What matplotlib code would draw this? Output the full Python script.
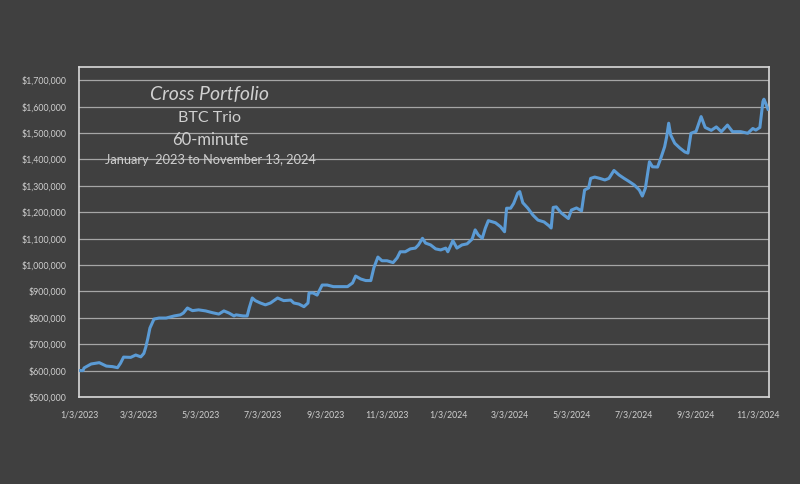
import matplotlib
matplotlib.use("Agg")
import matplotlib.pyplot as plt
import pandas as pd

# Portfolio equity curve
dates = [
    "2023-01-03", "2023-01-07", "2023-01-08", "2023-01-15", "2023-01-23", "2023-01-30",
    "2023-02-05", "2023-02-10", "2023-02-13", "2023-02-16", "2023-02-23", "2023-02-28",
    "2023-03-05", "2023-03-08", "2023-03-10", "2023-03-12", "2023-03-14", "2023-03-18",
    "2023-03-23", "2023-03-30", "2023-04-07", "2023-04-13", "2023-04-16", "2023-04-20",
    "2023-04-25", "2023-05-01", "2023-05-08", "2023-05-15", "2023-05-21", "2023-05-26",
    "2023-05-31", "2023-06-05", "2023-06-07", "2023-06-14", "2023-06-18", "2023-06-20",
    "2023-06-23", "2023-06-26", "2023-07-01", "2023-07-06", "2023-07-11", "2023-07-18",
    "2023-07-24", "2023-07-31", "2023-08-03", "2023-08-08", "2023-08-13", "2023-08-17",
    "2023-08-18", "2023-08-22", "2023-08-26", "2023-08-31", "2023-09-05", "2023-09-11",
    "2023-09-18", "2023-09-25", "2023-09-30", "2023-10-03", "2023-10-08", "2023-10-13",
    "2023-10-18", "2023-10-21", "2023-10-25", "2023-10-29", "2023-11-03", "2023-11-09",
    "2023-11-13", "2023-11-16", "2023-11-21", "2023-11-26", "2023-12-01", "2023-12-04",
    "2023-12-08", "2023-12-11", "2023-12-16", "2023-12-21", "2023-12-26", "2023-12-31",
    "2024-01-02", "2024-01-07", "2024-01-11", "2024-01-16", "2024-01-21", "2024-01-26",
    "2024-01-29", "2024-02-01", "2024-02-05", "2024-02-08", "2024-02-11", "2024-02-18",
    "2024-02-23", "2024-02-27", "2024-02-29", "2024-03-04", "2024-03-07", "2024-03-11",
    "2024-03-13", "2024-03-16", "2024-03-21", "2024-03-26", "2024-03-31", "2024-04-06",
    "2024-04-11", "2024-04-13", "2024-04-15", "2024-04-18", "2024-04-23", "2024-04-30",
    "2024-05-03", "2024-05-08", "2024-05-13", "2024-05-16", "2024-05-20", "2024-05-22",
    "2024-05-26", "2024-05-31", "2024-06-05", "2024-06-09", "2024-06-14", "2024-06-19",
    "2024-06-24", "2024-06-29", "2024-07-04", "2024-07-09", "2024-07-12", "2024-07-15",
    "2024-07-19", "2024-07-22", "2024-07-27", "2024-07-30", "2024-08-03", "2024-08-05",
    "2024-08-07", "2024-08-09", "2024-08-13", "2024-08-18", "2024-08-23", "2024-08-26",
    "2024-08-29", "2024-09-03", "2024-09-08", "2024-09-12", "2024-09-18", "2024-09-23",
    "2024-09-28", "2024-10-04", "2024-10-09", "2024-10-17", "2024-10-24", "2024-10-29",
    "2024-11-01", "2024-11-05", "2024-11-08", "2024-11-09", "2024-11-11", "2024-11-13",
]
equity = [
    600000, 600000, 610000, 625000, 630000, 617000,
    615000, 611000, 628000, 651000, 650000, 659000,
    652000, 665000, 690000, 723000, 761000, 795000,
    799000, 799000, 807000, 811000, 818000, 837000,
    827000, 830000, 826000, 819000, 814000, 826000,
    818000, 807000, 811000, 807000, 807000, 837000,
    875000, 865000, 856000, 849000, 856000, 875000,
    865000, 867000, 856000, 852000, 842000, 856000,
    894000, 894000, 886000, 924000, 924000, 918000,
    918000, 918000, 932000, 958000, 947000, 941000,
    941000, 989000, 1030000, 1016000, 1016000, 1009000,
    1027000, 1050000, 1050000, 1061000, 1064000, 1076000,
    1101000, 1083000, 1076000, 1061000, 1057000, 1064000,
    1050000, 1092000, 1064000, 1076000, 1080000, 1098000,
    1133000, 1114000, 1101000, 1139000, 1168000, 1160000,
    1145000, 1126000, 1215000, 1215000, 1233000, 1272000,
    1278000, 1236000, 1215000, 1189000, 1170000, 1163000,
    1148000, 1140000, 1218000, 1220000, 1197000, 1176000,
    1208000, 1216000, 1205000, 1284000, 1292000, 1328000,
    1333000, 1328000, 1322000, 1328000, 1358000, 1341000,
    1328000, 1316000, 1303000, 1284000, 1261000, 1291000,
    1391000, 1372000, 1371000, 1402000, 1448000, 1486000,
    1537000, 1492000, 1461000, 1443000, 1428000, 1424000,
    1499000, 1506000, 1562000, 1521000, 1510000, 1523000,
    1505000, 1530000, 1505000, 1505000, 1499000, 1517000,
    1511000, 1521000, 1619000, 1628000, 1610000, 1590000,
]

tick_dates = ["2023-01-03", "2023-03-03", "2023-05-03", "2023-07-03", "2023-09-03",
              "2023-11-03", "2024-01-03", "2024-03-03", "2024-05-03", "2024-07-03",
              "2024-09-03", "2024-11-03"]
tick_labels = ["1/3/2023", "3/3/2023", "5/3/2023", "7/3/2023", "9/3/2023", "11/3/2023",
               "1/3/2024", "3/3/2024", "5/3/2024", "7/3/2024", "9/3/2024", "11/3/2024"]
y_ticks = list(range(500000, 1700001, 100000))

bg = "#404040"
text_col = "#d0d0d0"
plt.rcParams["font.family"] = ["Lato", "DejaVu Sans"]

fig = plt.figure(figsize=(8, 4.84), dpi=100, facecolor=bg)
ax = fig.add_axes([0.09875, 0.1798, 0.8625, 0.6818])
ax.set_facecolor(bg)

x = pd.to_datetime(dates)
ax.plot(x, equity, color="#5b9bd5", linewidth=2.2, zorder=3)

ax.set_xlim(pd.Timestamp("2023-01-03"), pd.Timestamp("2024-11-14"))
ax.set_ylim(500000, 1750000)
ax.set_xticks(pd.to_datetime(tick_dates))
ax.set_xticklabels(tick_labels)
ax.set_yticks(y_ticks)
ax.set_yticklabels(["${:,}".format(v) for v in y_ticks])
ax.tick_params(colors=text_col, labelsize=6.3, length=0)
ax.tick_params(axis="x", pad=10)
ax.tick_params(axis="y", pad=9)
ax.grid(axis="y", color="#a6a6a6", linewidth=0.9)
for s in ax.spines.values():
    s.set_color("#d9d9d9")
    s.set_linewidth(1.2)

# title block inside the plot area
fig.text(0.2625, 1 - 94 / 484, "Cross Portfolio", ha="center", va="center",
         fontsize=14, style="italic", color=text_col)
fig.text(0.2625, 1 - 118 / 484, "BTC Trio", ha="center", va="center",
         fontsize=11.5, color=text_col)
fig.text(0.2625, 1 - 140 / 484, "60-minute", ha="center", va="center",
         fontsize=12, color=text_col)
fig.text(0.2625, 1 - 160 / 484, "January  2023 to November 13, 2024", ha="center",
         va="center", fontsize=9.2, color=text_col)

fig.savefig("out.png", dpi=100, facecolor=bg)
